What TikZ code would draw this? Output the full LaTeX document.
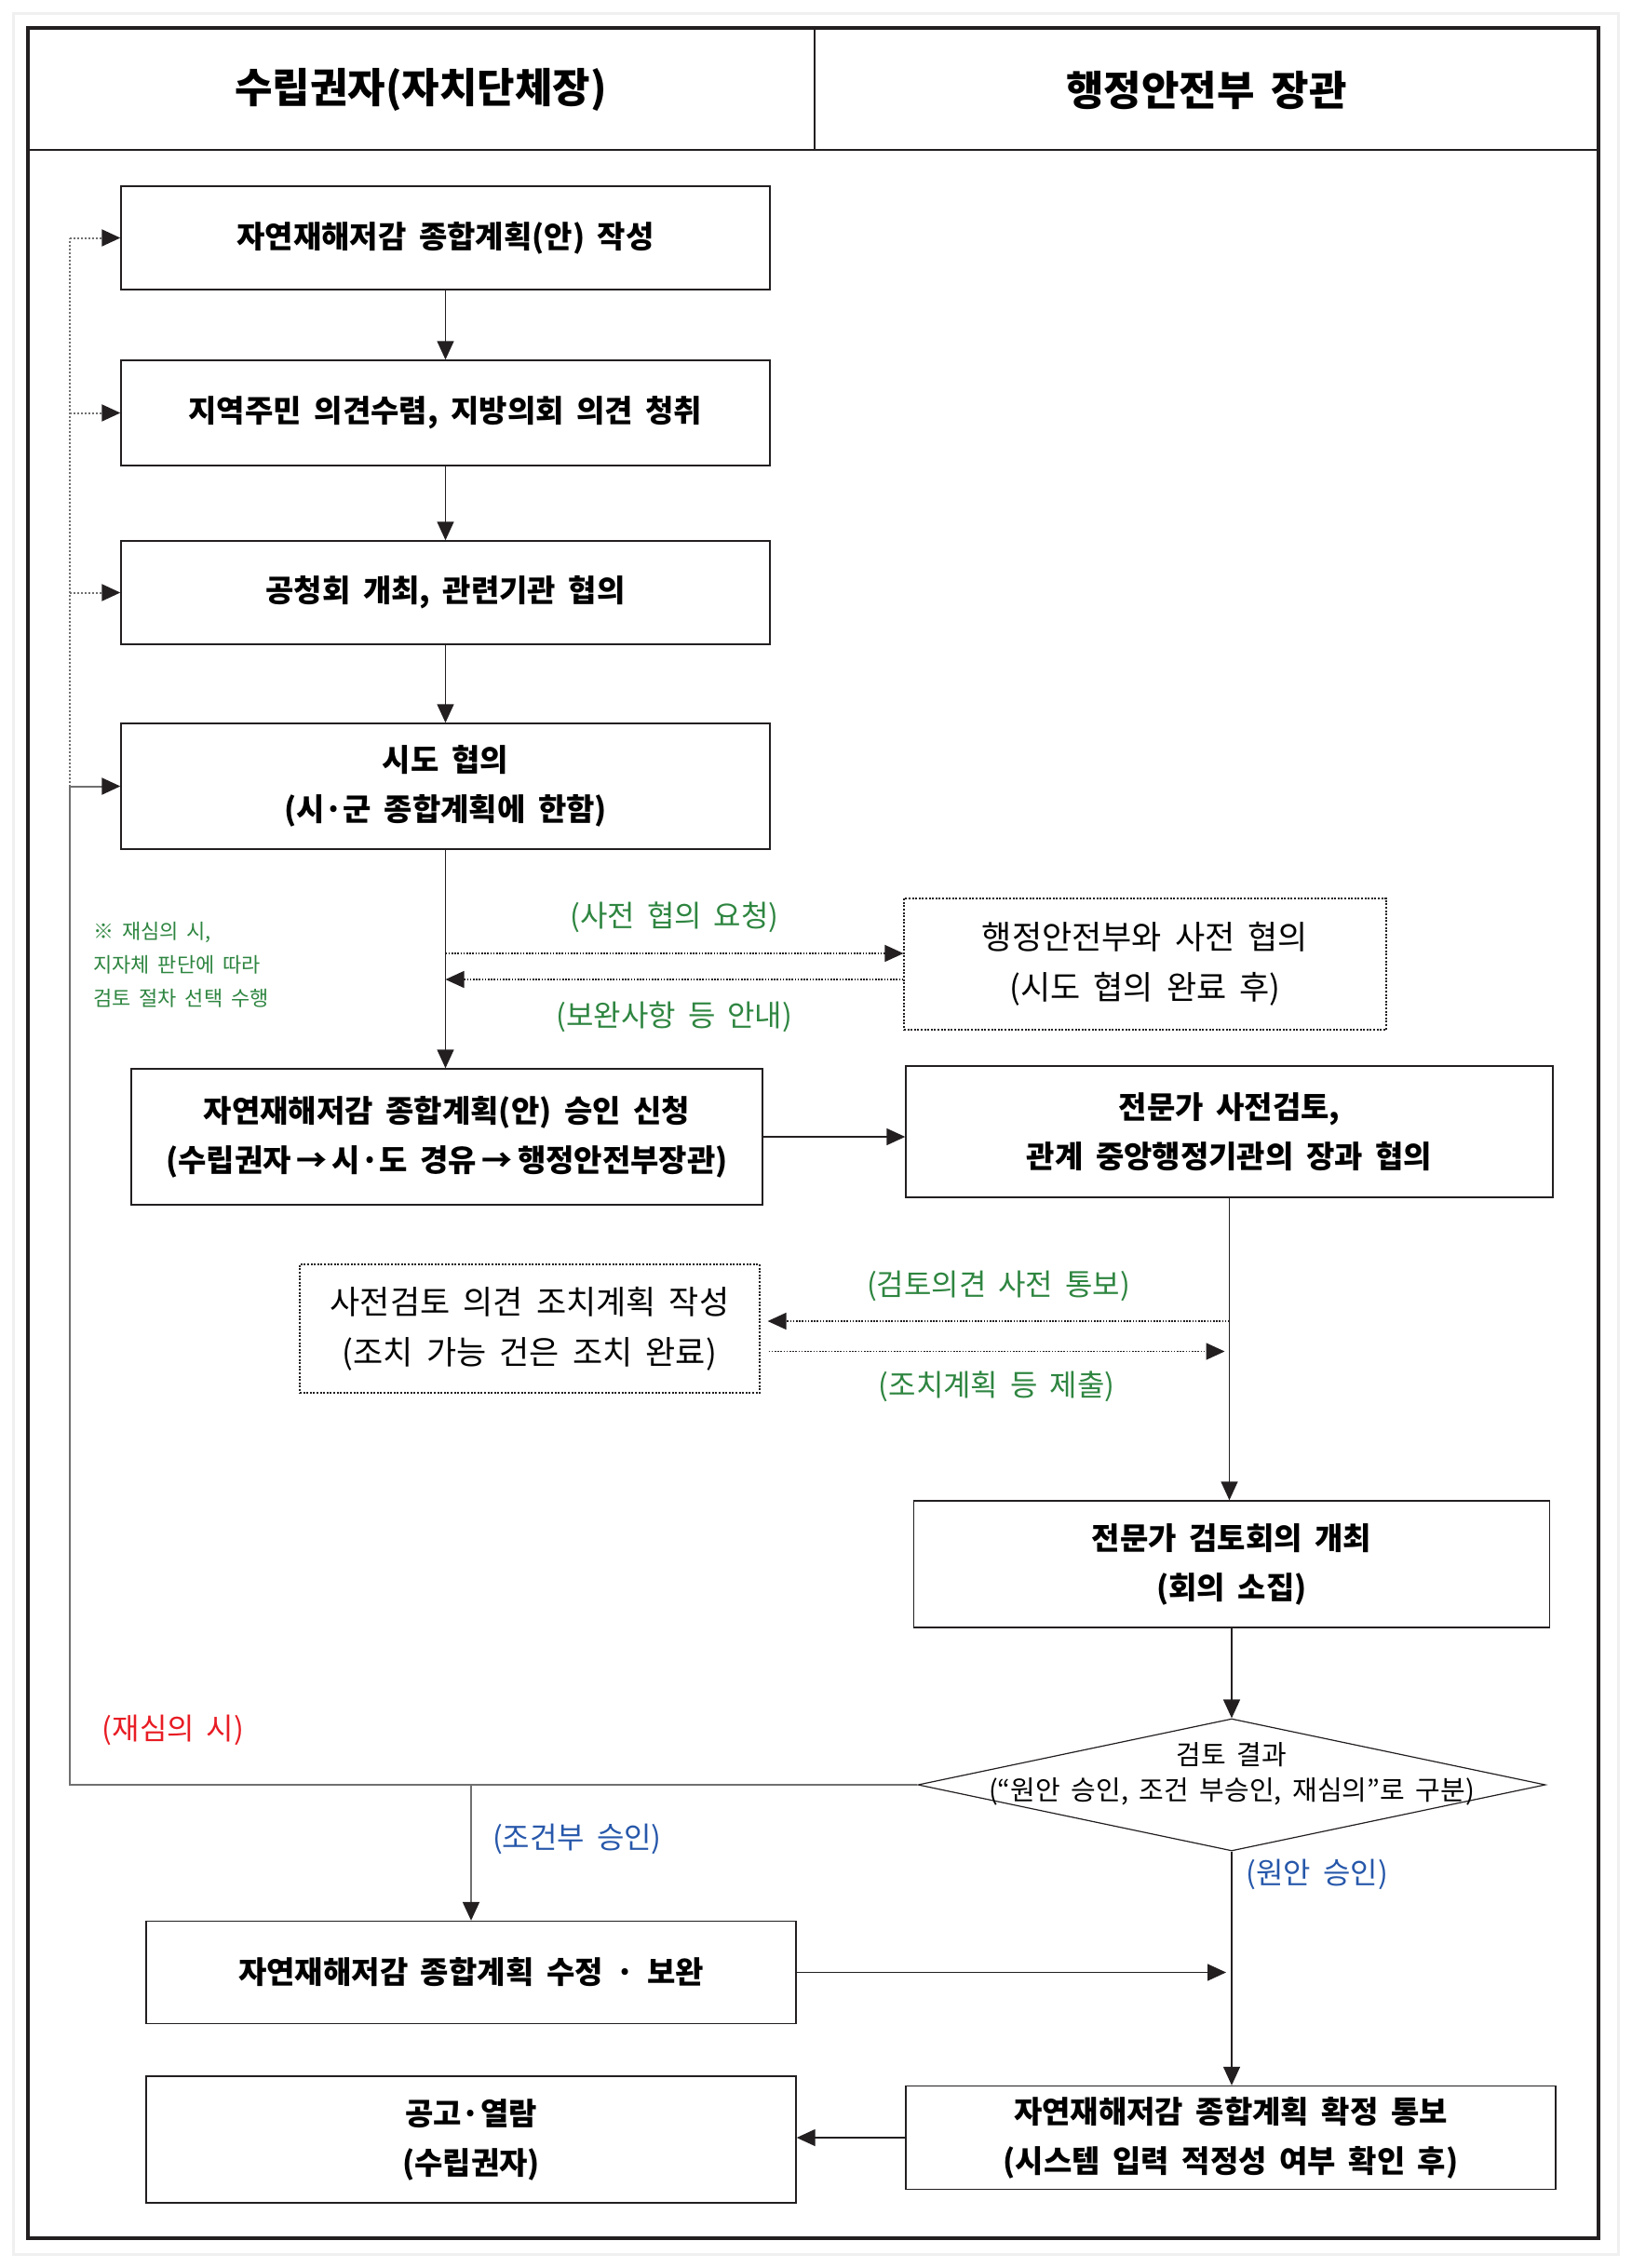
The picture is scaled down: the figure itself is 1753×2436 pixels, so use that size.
\documentclass[tikz,border=0pt]{standalone}
\usepackage{fontspec}
\usepackage{tikz}
\usetikzlibrary{arrows.meta,shapes.geometric}
\newfontfamily\kr{Noto Sans CJK KR}[WordSpace=1.8]
\newcommand{\headfont}{\kr\bfseries\fontsize{44}{50}\selectfont}
\newcommand{\boxfont}{\kr\bfseries\fontsize{33}{53}\selectfont}
\newcommand{\plainfont}{\kr\fontsize{35}{54}\selectfont}
\newcommand{\tagfont}{\kr\fontsize{32}{36}\selectfont}
\newcommand{\notefont}{\kr\fontsize{22}{36}\selectfont}
\definecolor{ink}{RGB}{35,31,32}
\definecolor{lgray}{RGB}{112,112,112}
\definecolor{ngreen}{RGB}{46,133,64}
\definecolor{nblue}{RGB}{38,87,170}
\definecolor{nred}{RGB}{232,28,36}

\begin{document}
\begin{tikzpicture}[ x=1pt, y=-1pt,
	>={Triangle[length=20pt,width=18pt,color=ink]},
	box/.style={draw=ink, line width=1.4pt, inner sep=0pt, align=center, font=\boxfont},
	dotbox/.style={draw=ink, line width=1.2pt, dash pattern=on 2pt off 1.6pt,
		inner sep=0pt, align=center, font=\plainfont},
	decision/.style={diamond, draw=ink, line width=1.2pt, inner sep=0pt},
	flow/.style={draw=ink, line width=1.4pt, ->},
	dotflow/.style={flow, dash pattern=on 1.6pt off 1.6pt},
	back/.style={draw=lgray, line width=2pt},
	backdot/.style={back, dash pattern=on 2pt off 2pt},
	tag/.style={inner sep=0pt, font=\tagfont} ]

	\useasboundingbox (0,0) rectangle (1753,2436);
	\draw [ gray!12, line width=3pt ] (14,14) rectangle (1738,2421);
	\draw [ ink, line width=3.5pt ] (30,30) rectangle (1717,2404);
	\draw [ ink, line width=1.4pt ] (30,161) -- (1717,161);
	\draw [ ink, line width=1.4pt ] (875,30) -- (875,161);

	% column heads
	\node [ font=\headfont ] (14) at (452,96) {수립권자(자치단체장)};
	\node [ font=\headfont ] (15) at (1296,97) {행정안전부 장관};

	% left column
	\node [ box, minimum width=697pt, minimum height=111pt ] (1) at (478.5,255.5)
		{자연재해저감 종합계획(안) 작성};
	\node [ box, minimum width=697pt, minimum height=113pt ] (2) at (478.5,443.5)
		{지역주민 의견수렴, 지방의회 의견 청취};
	\node [ box, minimum width=697pt, minimum height=111pt ] (3) at (478.5,636.5)
		{공청회 개최, 관련기관 협의};
	\node [ box, minimum width=697pt, minimum height=135pt ] (4) at (478.5,844.5)
		{시도 협의\\(시·군 종합계획에 한함)};
	\node [ box, minimum width=678pt, minimum height=146pt ] (5) at (480,1221)
		{자연재해저감 종합계획(안) 승인 신청\\(수립권자\,→\,시·도 경유\,→\,행정안전부장관)};
	\node [ dotbox, minimum width=494pt, minimum height=138pt ] (8) at (569,1427)
		{사전검토 의견 조치계획 작성\\(조치 가능 건은 조치 완료)};
	\node [ box, minimum width=698pt, minimum height=110pt ] (11) at (506,2118.5)
		{자연재해저감 종합계획 수정 · 보완};
	\node [ box, minimum width=698pt, minimum height=136pt ] (13) at (506,2298)
		{공고·열람\\(수립권자)};

	% right column
	\node [ dotbox, minimum width=518pt, minimum height=141pt ] (6) at (1230,1035.5)
		{행정안전부와 사전 협의\\(시도 협의 완료 후)};
	\node [ box, minimum width=695pt, minimum height=141pt ] (7) at (1320.5,1215.5)
		{전문가 사전검토,\\관계 중앙행정기관의 장과 협의};
	\node [ box, minimum width=683pt, minimum height=136pt ] (9) at (1323,1680)
		{전문가 검토회의 개최\\(회의 소집)};
	\node [ decision, minimum width=674pt, minimum height=142pt ] (10) at (1323,1917) {};
	\node [ align=center, font=\kr\fontsize{29}{38}\selectfont ] (16) at (1323,1905)
		{검토 결과\\(“원안 승인, 조건 부승인, 재심의”로 구분)};
	\node [ box, minimum width=698pt, minimum height=111pt ] (12) at (1322,2296)
		{자연재해저감 종합계획 확정 통보\\(시스템 입력 적정성 여부 확인 후)};

	% notes
	\node [ tag, text=ngreen, font=\notefont, align=left, anchor=west ] (17) at (100,1036)
		{※ 재심의 시,\\지자체 판단에 따라\\검토 절차 선택 수행};
	\node [ tag, text=nred ] (18) at (186,1858) {(재심의 시)};

	% main flow
	\draw [ flow ] (1) to (2);
	\draw [ flow ] (2) to (3);
	\draw [ flow ] (3) to (4);
	\draw [ flow ] (4) to (4.south |- 5.north);
	\draw [ dotflow ] ([yshift=11.5pt]4.south |- 6.west) to
		node [ tag, text=ngreen, yshift=39pt ] {(사전 협의 요청)}
		([yshift=11.5pt]6.west);
	\draw [ dotflow ] ([yshift=-16.5pt]6.west) to
		node [ tag, text=ngreen, yshift=-40pt ] {(보완사항 등 안내)}
		([yshift=-16.5pt]6.west -| 4.south);
	\draw [ flow ] (5) to (5.east -| 7.west);
	\draw [ flow ] (7) to (7.south |- 9.north);
	\draw [ dotflow ] ([yshift=8pt]7.south |- 8.east) to
		node [ tag, text=ngreen, yshift=38pt ] {(검토의견 사전 통보)}
		([yshift=8pt,xshift=8pt]8.east);
	\draw [ dotflow ] ([yshift=-24.5pt,xshift=9pt]8.east) to
		node [ tag, text=ngreen, yshift=-37.5pt ] {(조치계획 등 제출)}
		([yshift=-24.5pt,xshift=-5pt]8.east -| 7.south);
	\draw [ flow ] (9) to (10);
	\draw [ flow ] (10) to
		node [ tag, text=nblue, anchor=west, xshift=15pt, pos=0.1 ] {(원안 승인)}
		(10.south |- 12.north);
	\draw [ flow, shorten >=6pt ] (11) to (11.east -| 10.south);
	\draw [ flow ] (12) to (12.west -| 13.east);

	% return paths
	\draw [ back, -> ] (10.west) -| ([xshift=-54pt]4.west) to (4.west);
	\draw [ backdot ] ([xshift=-54pt]4.west) to ([xshift=-54pt]1.west);
	\foreach \n in {1,2,3}
		\draw [ backdot, -> ] ([xshift=-54pt]\n.west) to (\n.west);
	\draw [ back, -> ] (11.north |- 10.west) to
		node [ tag, text=nblue, anchor=west, xshift=22pt, pos=0.4 ] {(조건부 승인)}
		(11.north);
\end{tikzpicture}
\end{document}
